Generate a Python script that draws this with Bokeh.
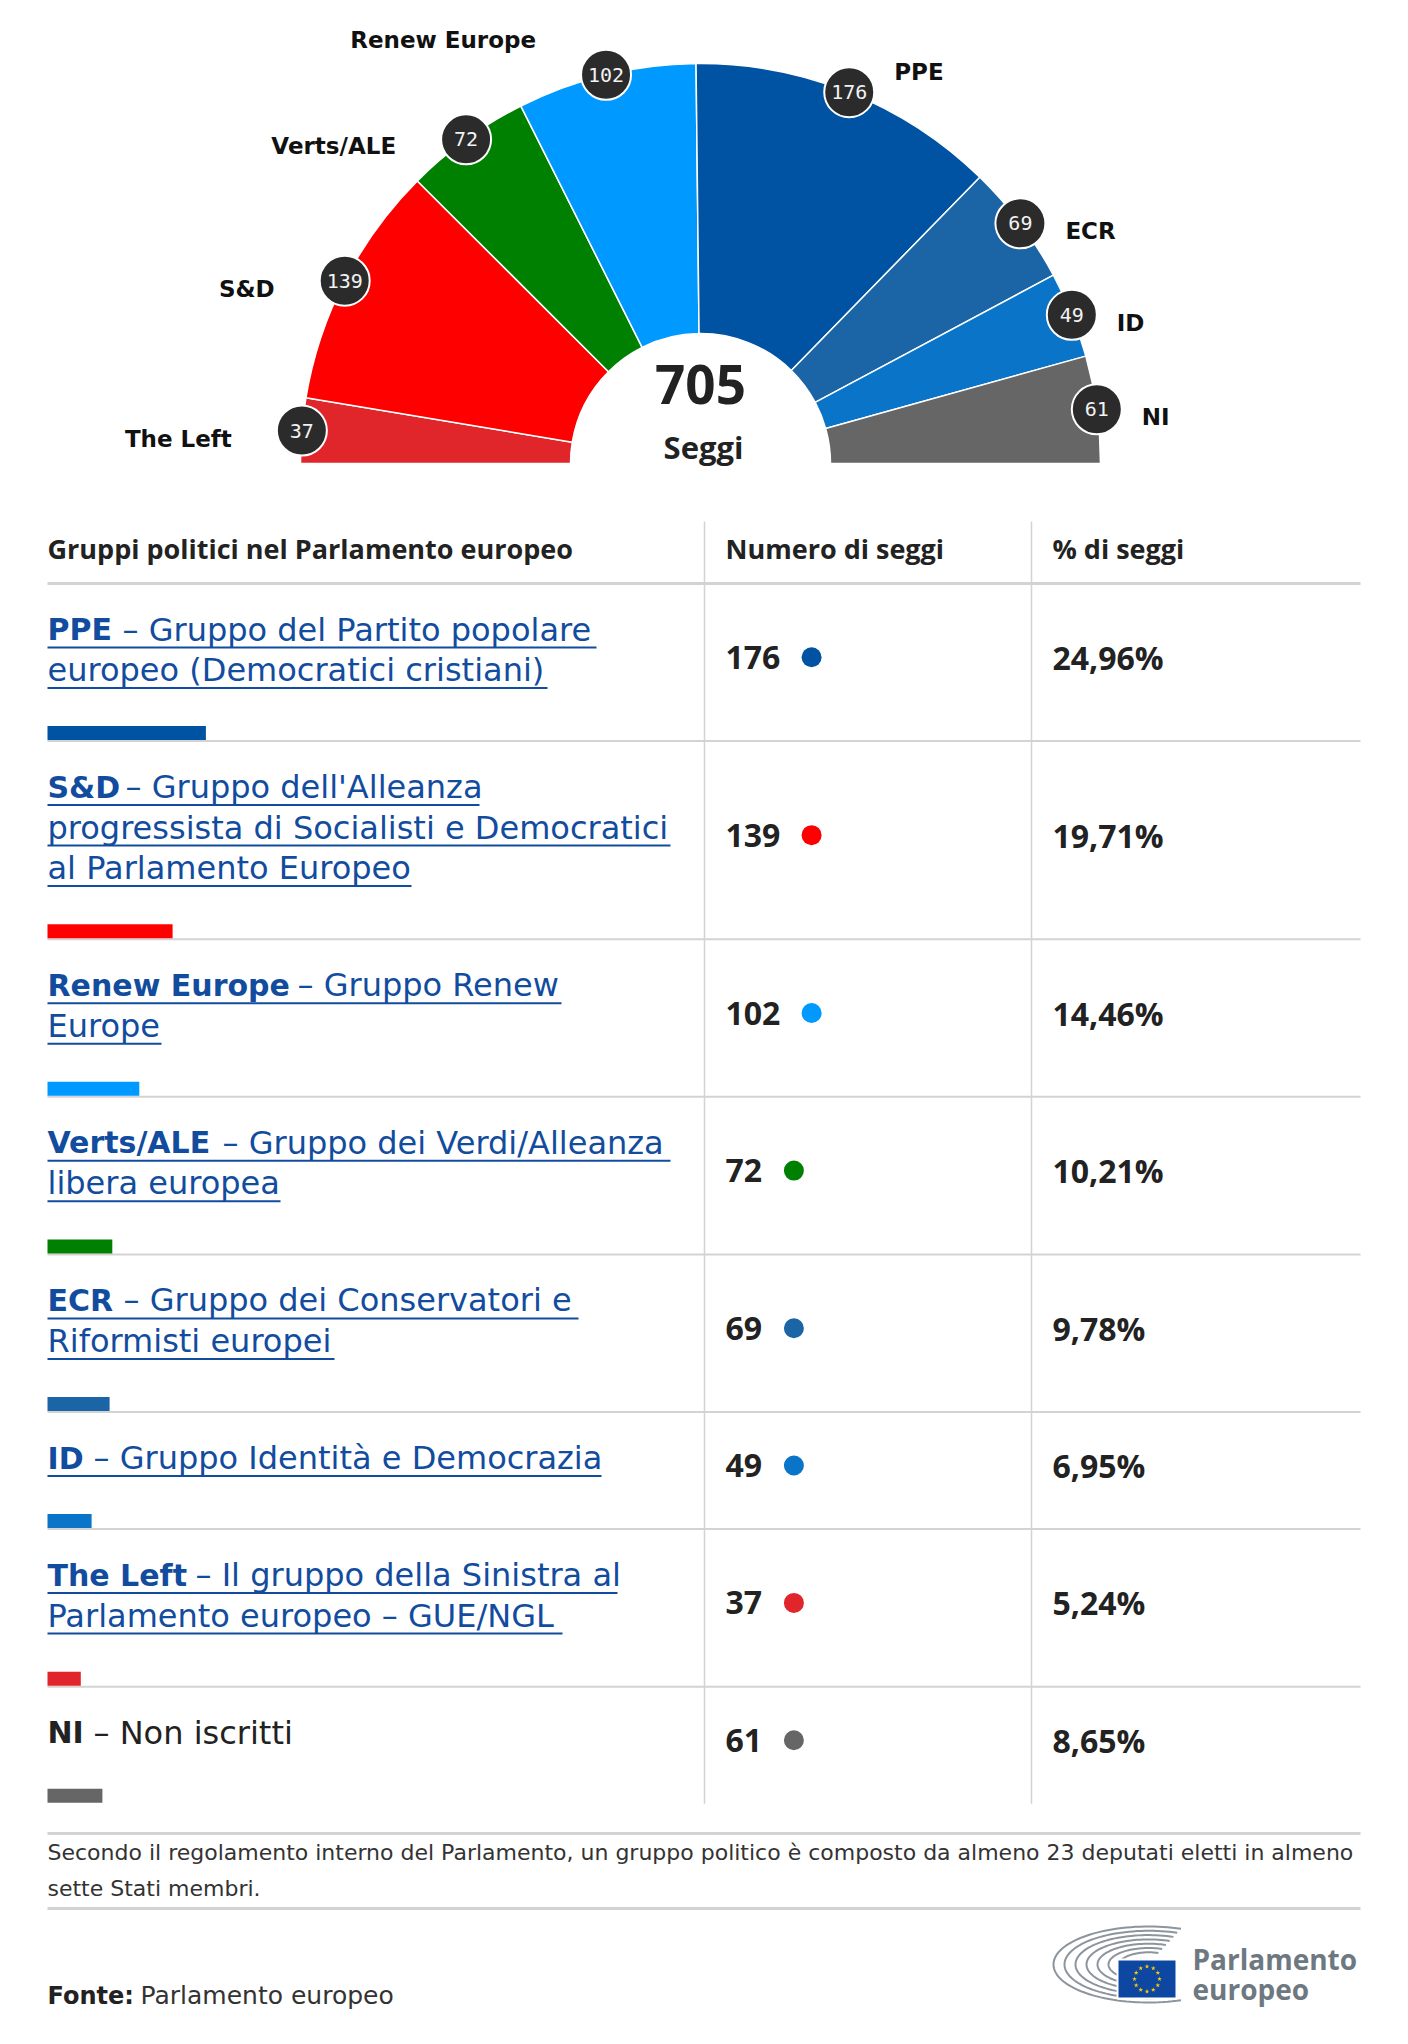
import numpy as np
from bokeh.plotting import figure
from bokeh.models import Range1d, ColumnDataSource
from bokeh.embed import file_html
from bokeh.resources import INLINE
from bokeh.core.properties import value

# ---------------- data ----------------
hemi_groups = ["The Left", "S&D", "Verts/ALE", "Renew Europe", "PPE", "ECR", "ID", "NI"]
hemi_seats = [37, 139, 72, 102, 176, 69, 49, 61]
hemi_colors = ["#E0262A", "#FF0000", "#008000", "#0099FF", "#0053A2", "#1B64A6", "#0A74C8", "#666666"]
total_seats = 705
center_label = "Seggi"

table_header = ["Gruppi politici nel Parlamento europeo", "Numero di seggi", "% di seggi"]
table_abbr = ["PPE", "S&D", "Renew Europe", "Verts/ALE", "ECR", "ID", "The Left", "NI"]
table_seats = [176, 139, 102, 72, 69, 49, 37, 61]
table_pct = ["24,96%", "19,71%", "14,46%", "10,21%", "9,78%", "6,95%", "5,24%", "8,65%"]
table_names = [
    ["– Gruppo del Partito popolare", "europeo (Democratici cristiani)"],
    ["– Gruppo dell'Alleanza", "progressista di Socialisti e Democratici", "al Parlamento Europeo"],
    ["– Gruppo Renew", "Europe"],
    ["– Gruppo dei Verdi/Alleanza", "libera europea"],
    ["– Gruppo dei Conservatori e", "Riformisti europei"],
    ["– Gruppo Identità e Democrazia"],
    ["– Il gruppo della Sinistra al", "Parlamento europeo – GUE/NGL"],
    ["– Non iscritti"],
]
table_links = [True, True, True, True, True, True, True, False]

footnote = ["Secondo il regolamento interno del Parlamento, un gruppo politico è composto da almeno 23 deputati eletti in almeno",
            "sette Stati membri."]
source_label = "Fonte:"
source_text = "Parlamento europeo"
logo_text = ["Parlamento", "europeo"]

# ---------------- layout / style ----------------
W, H = 1392, 2028
LEFT, RIGHT = 47, 1360
COL2, COL3 = 704, 1031
CX, CY, R_OUT, R_IN = 700, 463, 400, 130
BUBBLE_SIZE = 50
LABEL_DX_LEFT, LABEL_DX_RIGHT = -70, 45
LABEL_DY = [8, 8, 7, -35, -20, 8, 8, 8]
HEADER_Y, HEADER_LINE = 548, 583
TABLE_TOP = 521
ROW_BASE, LINE_H = 76.6, 40.5
SEAT_PX = 0.9
DASH_X = [122, 125, 297, 222, 123, 93, 195, 93]
UNDERLINE_END = [[596, 547], [479, 670, 411], [561, 161], [670, 280], [578, 334], [601], [617, 562], []]
LINK = "#124C9E"
DARK = "#222222"
GRID = "#D3D3D3"
FONT = "Open Sans"
BODY = "DejaVu Sans"

p = figure(width=W, height=H, x_range=Range1d(0, W), y_range=Range1d(-H, 0),
           output_backend="svg", toolbar_location=None, min_border=0,
           x_axis_location=None, y_axis_location=None,
           outline_line_color=None, background_fill_color="white", border_fill_color="white")
p.xgrid.visible = False
p.ygrid.visible = False


def txt(x, y, s, size, color=DARK, bold=False, font=FONT, align="left"):
    p.text(x=[x], y=[-y], text=[s], text_font=value(font), text_font_size=f"{size}px",
           text_font_style="bold" if bold else "normal", text_color=color,
           text_align=align, text_baseline="middle")


# ---------------- hemicycle ----------------
frac = np.array(hemi_seats) / total_seats
cum = np.concatenate([[0.0], np.cumsum(frac)])
a_end = np.pi * (1 - cum[:-1])
a_start = np.pi * (1 - cum[1:])
mid = (a_start + a_end) / 2
hemi = ColumnDataSource(dict(start=a_start, end=a_end, color=hemi_colors,
                             bx=CX + R_OUT * np.cos(mid), by=-CY + R_OUT * np.sin(mid),
                             num=[str(s) for s in hemi_seats]))
p.annular_wedge(x=CX, y=-CY, inner_radius=R_IN, outer_radius=R_OUT, start_angle="start", end_angle="end",
                fill_color="color", line_color="white", line_width=1.5, source=hemi)
p.scatter(x="bx", y="by", size=BUBBLE_SIZE, marker="circle", fill_color="#2B2B2B",
          line_color="white", line_width=2, source=hemi)
p.text(x="bx", y="by", text="num", source=hemi, text_font=value("DejaVu Sans Mono"),
       text_font_size="20px", text_color="#F2F2F2", text_align="center", text_baseline="middle")

for g, m, bx, by, dy in zip(hemi_groups, mid, hemi.data["bx"], hemi.data["by"], LABEL_DY):
    left_side = m > np.pi / 2
    p.text(x=[bx + (LABEL_DX_LEFT if left_side else LABEL_DX_RIGHT)], y=[by - dy], text=[g],
           text_font=value("DejaVu Sans"), text_font_size="23px", text_font_style="bold",
           text_color="#111111", text_align="right" if left_side else "left", text_baseline="middle")

txt(CX, 384, str(total_seats), 53, bold=True, align="center")
txt(CX + 3, 446, center_label, 31, bold=True, align="center")

# ---------------- table ----------------
txt(LEFT, HEADER_Y, table_header[0], 27, bold=True)
txt(COL2 + 21, HEADER_Y, table_header[1], 27, bold=True)
txt(COL3 + 21, HEADER_Y, table_header[2], 27, bold=True)
p.segment(x0=[LEFT], y0=[-HEADER_LINE], x1=[RIGHT], y1=[-HEADER_LINE], line_color=GRID, line_width=3)

color_of = dict(zip(hemi_groups, hemi_colors))
top = HEADER_LINE
bar_l, bar_r, bar_t, bar_b, bar_c = [], [], [], [], []
for i, (abbr, lines) in enumerate(zip(table_abbr, table_names)):
    n = len(lines)
    bottom = top + ROW_BASE + LINE_H * n
    col = LINK if table_links[i] else DARK
    for j, line in enumerate(lines):
        cy_line = top + 46 + LINE_H * j
        if j == 0:
            txt(LEFT, cy_line, abbr, 30, color=col, bold=True, font=BODY)
            txt(DASH_X[i], cy_line, line, 32, color=col, font=BODY)
        else:
            txt(LEFT, cy_line, line, 32, color=col, font=BODY)
        if table_links[i]:
            p.segment(x0=[LEFT], y0=[-(cy_line + 18)], x1=[UNDERLINE_END[i][j]], y1=[-(cy_line + 18)],
                      line_color=LINK, line_width=2)
    # seats, dot, percent
    cy = (top + bottom) / 2 - 5
    s = str(table_seats[i])
    txt(COL2 + 21, cy, s, 32, bold=True)
    p.scatter(x=[COL2 + 21 + 17.7 * len(s) + 33], y=[-cy], size=20, marker="circle",
              fill_color=color_of[abbr], line_color=None)
    txt(COL3 + 21, cy, table_pct[i], 32, bold=True)
    # bar
    bar_l.append(LEFT)
    bar_r.append(LEFT + table_seats[i] * SEAT_PX)
    bar_t.append(-(bottom - 15))
    bar_b.append(-(bottom - 1))
    bar_c.append(color_of[abbr])
    if i < len(table_abbr) - 1:
        p.segment(x0=[LEFT], y0=[-bottom], x1=[RIGHT], y1=[-bottom], line_color=GRID, line_width=2)
    top = bottom

p.quad(left=bar_l, right=bar_r, top=bar_t, bottom=bar_b, fill_color=bar_c, line_color=None)
p.segment(x0=[COL2, COL3], y0=[-TABLE_TOP, -TABLE_TOP], x1=[COL2, COL3], y1=[-top, -top],
          line_color=GRID, line_width=1.5)

# ---------------- footer ----------------
p.segment(x0=[LEFT, LEFT], y0=[-1833, -1908], x1=[RIGHT, RIGHT], y1=[-1833, -1908], line_color=GRID, line_width=3)
txt(LEFT, 1852, footnote[0], 22, color="#333333", font=BODY)
txt(LEFT, 1888, footnote[1], 22, color="#333333", font=BODY)
txt(LEFT, 1995, source_label, 24, bold=True, font=BODY)
txt(140, 1995, source_text, 25, color="#333333", font=BODY)

# logo emblem
EMX, EMY = 1148, 1964
xs, ys = [], []
for k in range(7):
    rx, ry = 95 - k * 11, 38 - k * 4.3
    t = np.linspace(np.radians(70), np.radians(290), 80)
    xs.append(list(EMX + rx * np.cos(t)))
    ys.append(list(-(EMY - ry * np.sin(t))))
p.multi_line(xs=xs, ys=ys, line_color="#8C959D", line_width=2)
p.quad(left=[1117], right=[1176], top=[-1959], bottom=[-1998], fill_color="#0E47A1", line_color="white", line_width=2)
ang = np.linspace(0, 2 * np.pi, 13)[:-1]
p.scatter(x=list(1146.5 + 12.5 * np.cos(ang)), y=list(-1978.5 + 12.5 * np.sin(ang)), marker="star",
          size=5, fill_color="#FFCC00", line_color=None)
txt(1192, 1958, logo_text[0], 28, color="#6E7881", bold=True)
txt(1192, 1988, logo_text[1], 28, color="#6E7881", bold=True)

open("out.html", "w").write(file_html(p, INLINE))
